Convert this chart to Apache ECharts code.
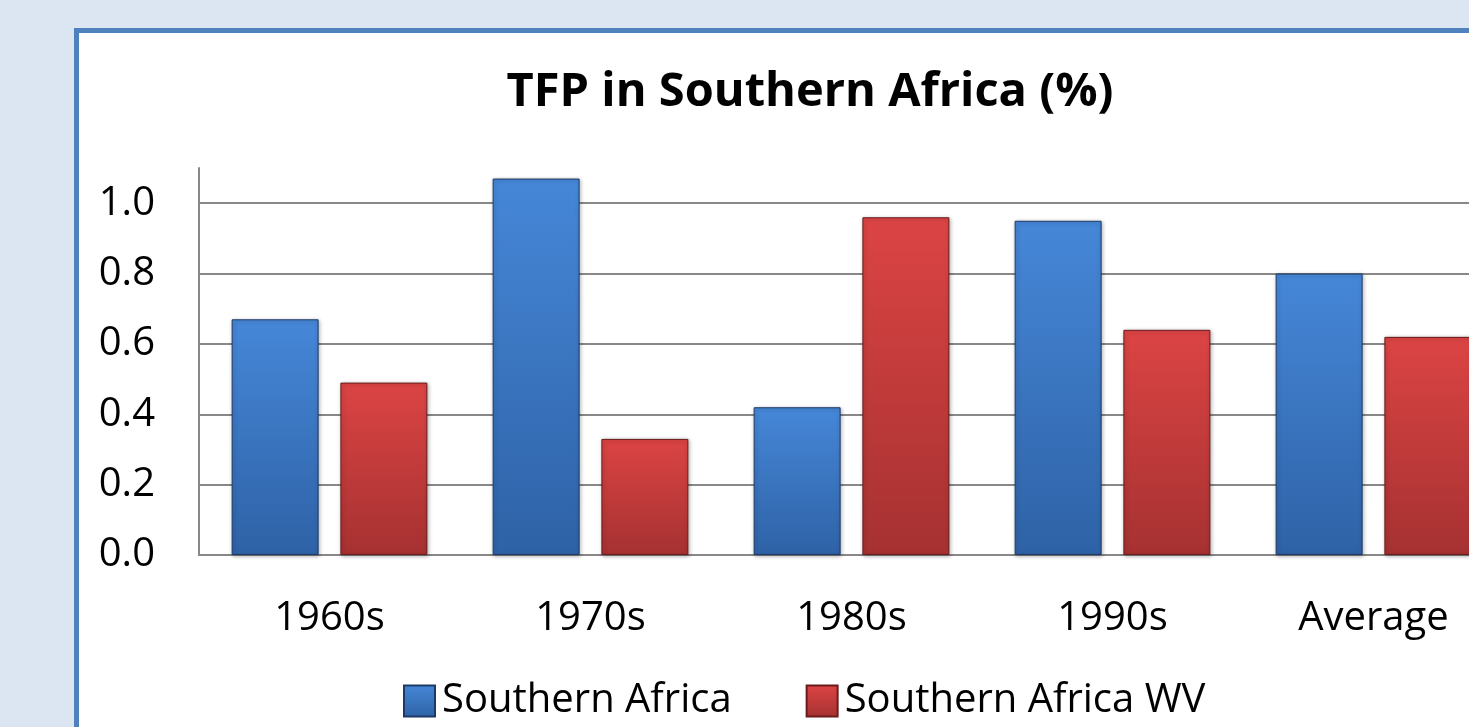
<!DOCTYPE html>
<html lang="en">
<head>
	<meta charset="utf-8">
	<title>TFP in Southern Africa</title>
	<style>
		html, body { margin: 0; padding: 0; width: 100%; height: 100%; overflow: hidden; background: #dce6f2; }
		/* 白色卡片带蓝色边框 */
		.card { position: absolute; left: 74px; top: 28px; width: 1500px; height: 800px; background: #fff; border: 5px solid #4f81bd; box-sizing: border-box; }
		/* 图表比窗口宽一点，最后一组柱子被裁掉 */
		#panel { position: absolute; left: 0; top: 0; width: 1504px; height: 727px; }
	</style>
</head>
<body>
	<div class="card"></div>
	<div id="panel"></div>
	<script src="https://cdn.jsdelivr.net/npm/echarts@6/dist/echarts.min.js"></script>
	<script type="text/javascript">
		// 数据
		const categories = ['1960s', '1970s', '1980s', '1990s', 'Average'];
		const southernAfrica = [0.67, 1.07, 0.42, 0.95, 0.80];
		const southernAfricaWV = [0.49, 0.33, 0.96, 0.64, 0.62];
		const seriesNames = ['Southern Africa', 'Southern Africa WV'];

		const font = 'Open Sans';

		const blueFill = new echarts.graphic.LinearGradient(0, 0, 0, 1, [
			{ offset: 0, color: '#4687d8' },
			{ offset: 1, color: '#2e62a6' }
		]);
		const redFill = new echarts.graphic.LinearGradient(0, 0, 0, 1, [
			{ offset: 0, color: '#dc4444' },
			{ offset: 1, color: '#a63131' }
		]);

		const panel = echarts.init(document.getElementById('panel'));
		let option = {
			animation: false,
			title: {
				text: 'TFP in Southern Africa (%)',
				left: 805,
				textAlign: 'center',
				top: 64,
				textStyle: { fontFamily: font, fontWeight: 'bold', fontSize: 47, color: '#000' }
			},
			legend: {
				bottom: 1,
				left: 398,
				itemWidth: 31,
				itemHeight: 31,
				itemGap: 74,
				icon: 'rect',
				textStyle: { fontFamily: font, fontSize: 40, color: '#000', padding: [0, 0, 0, 2] },
				data: seriesNames
			},
			grid: { left: 199, right: 0, top: 168, bottom: 172, containLabel: false },
			xAxis: {
				type: 'category',
				data: categories,
				axisLine: { lineStyle: { color: '#888', width: 2 } },
				axisTick: { show: false },
				axisLabel: { fontFamily: font, fontSize: 40, color: '#000', margin: 44 }
			},
			yAxis: {
				type: 'value',
				min: 0,
				max: 1.1,
				interval: 0.2,
				axisLine: { show: true, lineStyle: { color: '#888', width: 2 } },
				axisTick: { show: false },
				splitLine: { show: true, showMaxLine: false, lineStyle: { color: '#888', width: 2 } },
				axisLabel: {
					fontFamily: font, fontSize: 40, color: '#000', margin: 44,
					showMaxLabel: false,
					formatter: (v) => v.toFixed(1)
				}
			},
			series: [
				{
					name: seriesNames[0],
					type: 'bar',
					data: southernAfrica,
					barWidth: 87,
					barGap: '25%',
					itemStyle: { color: blueFill, borderColor: '#1d3a66', borderWidth: 1, shadowColor: 'rgba(0,0,0,0.3)', shadowBlur: 4, shadowOffsetX: 1, shadowOffsetY: 1 }
				},
				{
					name: seriesNames[1],
					type: 'bar',
					data: southernAfricaWV,
					barWidth: 87,
					itemStyle: { color: redFill, borderColor: '#6a1b1b', borderWidth: 1, shadowColor: 'rgba(0,0,0,0.3)', shadowBlur: 4, shadowOffsetX: 1, shadowOffsetY: 1 }
				}
			]
		};
		panel.setOption(option);
	</script>
</body>
</html>
